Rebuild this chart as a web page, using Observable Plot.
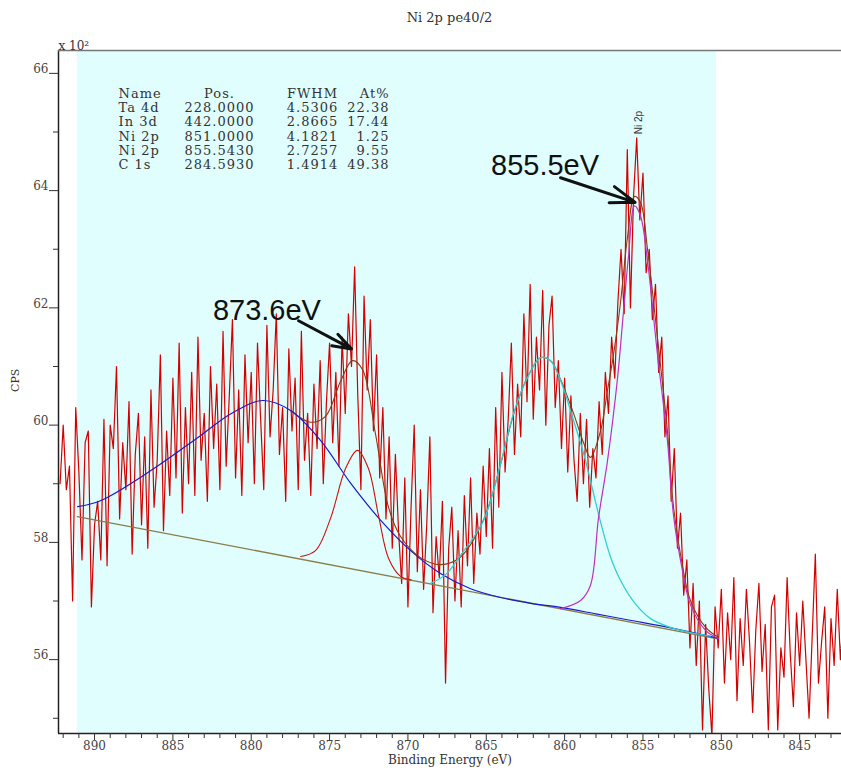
<!DOCTYPE html>
<html>
<head>
<meta charset="utf-8">
<script src="https://cdn.jsdelivr.net/npm/d3@7"></script>
<script src="https://cdn.jsdelivr.net/npm/@observablehq/plot@0.6"></script>
<style>
  html, body { margin: 0; padding: 0; background: #fff; }
  #chart { width: 841px; }
  .title {
    height: 34px; box-sizing: border-box; padding: 10px 0 0 58px;
    text-align: center; font: 13px "DejaVu Serif", serif; color: #333; line-height: 16px;
  }
  .peak-table text { letter-spacing: 1px; }
</style>
</head>
<body>
<div id="chart">
  <div class="title">Ni 2p pe40/2</div>
</div>
<script>
// Ni 2p region scan: counts per second (×100), one reading every 0.2 eV from 892.2 eV down
const scanStart = 892.2;
const scanStep = 0.2;
const counts = [
  59.0, 60.0, 58.9, 59.3, 57.0, 60.3, 59.2, 57.7, 59.7, 59.9,
  56.9, 58.3, 58.7, 57.7, 60.1, 57.6, 60.0, 59.6, 61.0, 58.4,
  59.7, 58.9, 60.4, 57.8, 59.5, 60.2, 58.3, 59.8, 57.9, 60.6,
  58.6, 59.4, 61.2, 58.2, 59.9, 58.8, 60.8, 59.1, 61.4, 58.5,
  60.3, 59.0, 60.9, 58.8, 61.5, 59.4, 60.2, 58.7, 61.0, 59.6,
  60.7, 58.9, 61.6, 59.3, 60.5, 61.8, 59.1, 60.6, 58.8, 61.2,
  59.7, 60.9, 59.0, 61.4, 60.1, 58.9, 61.7, 59.8, 60.6, 61.9,
  59.5, 60.3, 58.7, 61.3, 59.9, 60.8, 58.9, 61.6, 59.4, 60.2,
  58.8, 60.7, 59.6, 61.1, 59.0, 60.4, 61.4, 59.7, 60.9, 59.3,
  61.5, 60.2, 61.9, 61.0, 62.7, 60.5, 58.9, 62.2, 60.6, 61.8,
  59.9, 61.2, 59.1, 60.3, 58.4, 59.8, 57.9, 59.5, 58.2, 57.3,
  59.1, 56.9, 58.6, 60.0, 57.5, 58.9, 57.2, 58.3, 59.8, 56.8,
  58.1, 57.4, 58.7, 55.6, 57.9, 58.6, 57.0, 58.2, 56.9, 58.8,
  57.6, 59.1, 57.3, 58.5, 57.8, 59.3, 58.1, 59.6, 57.9, 60.3,
  58.6, 60.9, 59.2, 60.1, 61.4, 59.5, 60.7, 59.8, 61.9, 60.4,
  62.4, 60.1, 61.5, 60.6, 62.3, 60.0, 61.7, 62.2, 60.3, 61.1,
  59.6, 60.8, 59.2, 60.5, 59.4, 58.7, 60.2, 59.0, 60.1, 58.6,
  59.6, 59.1, 60.4, 59.5, 60.9, 60.2, 61.5, 60.8, 62.1, 63.0,
  61.9, 64.7, 62.0, 63.9, 64.9, 63.5, 64.3, 62.6, 63.0, 61.8,
  62.4, 60.9, 61.5, 59.8, 60.5, 58.7, 59.6, 57.9, 58.5, 57.1,
  57.7, 56.2, 57.3, 55.9, 57.0, 54.8, 56.6, 55.5, 54.7, 56.9,
  56.2, 57.2, 55.6, 56.8, 56.0, 57.4, 55.3, 56.7, 55.9, 57.2,
  56.3, 55.1, 56.5, 57.3, 55.8, 56.6, 54.8, 56.9, 57.1, 54.8,
  56.2, 55.7, 57.4, 56.1, 55.2, 56.8, 55.9, 57.0, 56.0, 55.0,
  56.4, 57.8, 55.6, 56.3, 56.9, 55.0, 56.7, 55.9, 57.2, 56.0,
  56.8
];

// Energy window used for the peak fit
const fitWindow = [891.1, 850.3];

// Fitted curves as [binding energy (eV), counts ×100]
const background = [[891.1, 58.44], [850.3, 56.36]];
const broadPeak = [
  [891.08, 58.61], [889.62, 58.71], [886.43, 59.22], [883.24, 59.82], [881.32, 60.19],
  [879.28, 60.42], [877.49, 60.25], [875.58, 59.74], [873.66, 59.01], [871.75, 58.38],
  [869.83, 57.86], [867.92, 57.47], [866.0, 57.21], [864.09, 57.06], [862.17, 56.96],
  [860.26, 56.89], [858.0, 56.78], [856.0, 56.68], [853.0, 56.53], [850.3, 56.37]
];
const peak873 = [
  [876.85, 57.76], [875.9, 57.86], [874.94, 58.41], [873.98, 59.26], [873.22, 59.57],
  [872.52, 59.26], [871.88, 58.46], [871.24, 57.73], [870.47, 57.42], [869.8, 57.36]
];
const peak861 = [
  [868.56, 57.3], [867.6, 57.45], [866.64, 57.78], [865.18, 58.37], [864.09, 59.34],
  [863.26, 60.2], [862.37, 60.81], [861.54, 61.15], [860.9, 61.1], [860.26, 60.76],
  [859.43, 60.08], [858.79, 59.52], [858.35, 59.05], [857.71, 58.35], [857.07, 57.75],
  [856.43, 57.35], [855.48, 56.95], [854.52, 56.7], [853.24, 56.55], [851.96, 56.46],
  [850.69, 56.4]
];
const peak855 = [
  [860.26, 56.87], [858.98, 57.01], [858.35, 57.27], [857.84, 58.41], [857.26, 59.4],
  [856.62, 60.81], [856.24, 61.95], [855.92, 62.89], [855.54, 63.74], [855.16, 63.57],
  [854.71, 62.8], [854.08, 61.22], [853.44, 59.74], [853.05, 58.46], [852.48, 57.52],
  [851.96, 56.93], [851.0, 56.5], [850.18, 56.36]
];
const envelope = [
  [877.49, 60.25], [876.21, 60.05], [875.26, 60.15], [874.3, 60.75], [873.54, 61.1],
  [872.9, 60.95], [872.07, 59.85], [871.24, 58.6], [870.47, 58.1], [869.2, 57.74],
  [867.92, 57.62], [866.64, 57.75], [865.18, 58.38], [864.09, 59.33], [863.26, 60.18],
  [862.37, 60.82], [861.54, 61.15], [860.9, 61.1], [860.26, 60.78], [859.43, 60.2],
  [858.79, 59.7], [858.35, 59.45], [857.71, 59.9], [857.26, 60.6], [856.88, 61.2],
  [856.43, 62.1], [855.99, 63.2], [855.54, 63.9], [855.16, 63.8], [854.71, 63.0],
  [854.08, 61.5], [853.44, 59.9], [853.05, 58.6], [852.48, 57.6], [851.96, 57.0],
  [851.0, 56.55], [850.18, 56.38]
];

// Quantification table
const tableHeader = ["Name", "Pos.", "FWHM", "At%"];
const tableNames = ["Ta 4d", "In 3d", "Ni 2p", "Ni 2p", "C 1s"];
const tablePositions = ["228.0000", "442.0000", "851.0000", "855.5430", "284.5930"];
const tableFwhm = ["4.5306", "2.8665", "4.1821", "2.7257", "1.4914"];
const tableAtomic = ["22.38", "17.44", "1.25", "9.55", "49.38"];

// Peak markers
const peakName = [{energy: 855.543, label: "Ni 2p"}];
const callouts = [
  {label: "855.5eV", energy: 855.5, counts: 63.8},
  {label: "873.6eV", energy: 873.6, counts: 61.3}
];

// Axis ticks
const energyTicks = [890, 885, 880, 875, 870, 865, 860, 855, 850, 845];
const energyMinorTicks = [843, 844, 846, 847, 848, 849, 851, 852, 853, 854, 856, 857, 858, 859,
  861, 862, 863, 864, 866, 867, 868, 869, 871, 872, 873, 874, 876, 877, 878, 879,
  881, 882, 883, 884, 886, 887, 888, 889, 891, 892];
const countTicks = [56, 58, 60, 62, 64, 66];
const countMinorTicks = [55, 57, 59, 61, 63, 65];

// Offsets of each callout's arrow tail and text from its tip, in axis units
const calloutLayout = {
  "855.5eV": {tail: [4.76, 0.42], text: [5.75, 0.63]},
  "873.6eV": {tail: [3.38, 0.48], text: [5.4, 0.65]}
};

const xDomain = [892.3, 842.33];
const yDomain = [54.74, 66.39];

const spectrum = counts.map((c, i) => ({energy: scanStart - i * scanStep, counts: c}));
const pairs = (arr) => arr.map(([energy, counts]) => ({energy, counts}));
const column = (head, rows) => [[head, ...rows].join("\n")];

const tableFont = {fontSize: 13, lineHeight: 1.1, lineAnchor: "top", frameAnchor: "top-left",
  dy: 37, fill: "#333", className: "peak-table"};

const curve = (arr, stroke, width = 1.2) =>
  Plot.line(pairs(arr), {x: "energy", y: "counts", stroke, strokeWidth: width, curve: "catmull-rom"});

// tick-only axis helpers
const ticksX = (values, size) => Plot.axisX(values, {anchor: "bottom", tickSize: size, stroke: "#333", fill: "none", label: null});
const ticksY = (values, size) => Plot.axisY(values, {anchor: "left", tickSize: size, stroke: "#333", fill: "none", label: null});

const chart = Plot.plot({
  width: 841,
  height: 736,
  marginLeft: 58,
  marginRight: 0,
  marginTop: 16,
  marginBottom: 37,
  style: {fontFamily: "'DejaVu Serif', serif", fontSize: "12px", color: "#444", background: "transparent"},
  x: {domain: xDomain, label: null},
  y: {domain: yDomain, label: null},
  marks: [
    Plot.rect([fitWindow], {x1: (d) => d[0], x2: (d) => d[1], fill: "#e0fefe"}),
    Plot.line(spectrum, {x: "energy", y: "counts", stroke: "#d40000", strokeWidth: 1.2, clip: true, strokeLinejoin: "round"}),
    curve(background, "#8b7d48", 1.3),
    curve(envelope, "#8a3b12", 1.1),
    curve(broadPeak, "#1a1acc", 1.2),
    curve(peak873, "#cc1111", 1.1),
    curve(peak861, "#2fd0d0", 1.3),
    curve(peak855, "#c030c0", 1.2),

    // frame lines
    Plot.ruleX([xDomain[0]], {stroke: "#222", strokeWidth: 1.5}),
    Plot.ruleY([yDomain[0]], {stroke: "#222", strokeWidth: 1.5}),
    Plot.ruleY([yDomain[1]], {stroke: "#777", strokeWidth: 1.5}),

    // axes
    ticksX(energyTicks, 7),
    ticksX(energyMinorTicks, 5),
    Plot.axisX(energyTicks, {anchor: "bottom", tickSize: 0, tickPadding: 8, fontSize: 12, fill: "#444", label: null}),
    ticksY(countTicks, 9),
    ticksY(countMinorTicks, 5),
    Plot.axisY(countTicks, {anchor: "left", tickSize: 0, tickPadding: 10, dy: -4, fontSize: 12, fill: "#444",
      tickFormat: "d", label: null}),

    Plot.text(["Binding Energy (eV)"], {frameAnchor: "bottom", dy: 30, fontSize: 12, fill: "#333"}),
    Plot.text(["CPS"], {frameAnchor: "left", dx: -43, rotate: -90, fontSize: 11, fill: "#333"}),
    Plot.text(["x 10²"], {frameAnchor: "top-left", textAnchor: "start", lineAnchor: "bottom", dy: -1, fontSize: 12, fill: "#333"}),

    // quantification table
    Plot.text(column(tableHeader[0], tableNames), {...tableFont, dx: 60, textAnchor: "start"}),
    Plot.text(column(tableHeader[1], tablePositions), {...tableFont, dx: 161, textAnchor: "middle"}),
    Plot.text(column(tableHeader[2], tableFwhm), {...tableFont, dx: 254, textAnchor: "middle"}),
    Plot.text(column(tableHeader[3], tableAtomic), {...tableFont, dx: 331, textAnchor: "end"}),

    // component name above the Ni 2p peak
    Plot.text(peakName, {x: "energy", text: "label", frameAnchor: "top", dy: 72, rotate: -90,
      fontSize: 10, fontFamily: "'Liberation Sans', sans-serif", fill: "#333"}),

    // callouts
    Plot.arrow(callouts, {
      x1: (d) => d.energy + calloutLayout[d.label].tail[0],
      y1: (d) => d.counts + calloutLayout[d.label].tail[1],
      x2: "energy", y2: "counts",
      stroke: "#111", strokeWidth: 3, headLength: 13, headAngle: 38
    }),
    Plot.text(callouts, {
      x: (d) => d.energy + calloutLayout[d.label].text[0],
      y: (d) => d.counts + calloutLayout[d.label].text[1],
      text: "label", fontSize: 29, fontFamily: "'Liberation Sans', sans-serif", fill: "#111"
    })
  ]
});

document.getElementById("chart").append(chart);
</script>
</body>
</html>
